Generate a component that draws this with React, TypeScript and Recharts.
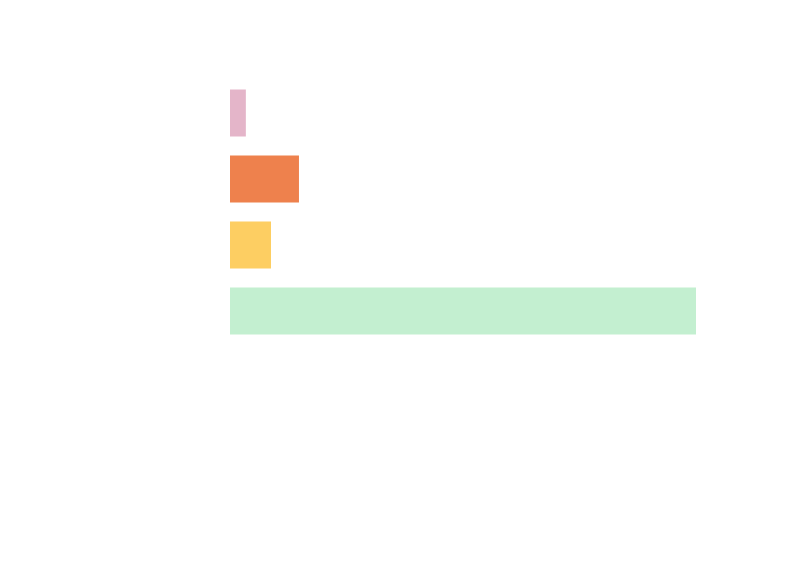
import React from "react";
import { BarChart, Bar, XAxis, YAxis, Cell } from "recharts";

const categories = ["A", "B", "C", "D"];
const values = [34, 148, 88, 1000];
const COLORS = ["#e4b5c9", "#ee814d", "#fdce62", "#c3efd0"];

const data = categories.map((name, i) => ({ name, value: values[i] }));

const App = () => {
    return (
        <BarChart
            width={784}
            height={546}
            data={data}
            layout="vertical"
            margin={{ top: 71.5, right: 96, left: 222, bottom: 210.5 }}>
            <XAxis type="number" domain={[0, "dataMax"]} hide />
            <YAxis type="category" dataKey="name" hide />
            <Bar dataKey="value" barSize={47} isAnimationActive={false}>
                {data.map((entry, index) => (
                    <Cell key={`cell-${index}`} fill={COLORS[index % COLORS.length]} />
                ))}
            </Bar>
        </BarChart>
    );
};

export default App;
